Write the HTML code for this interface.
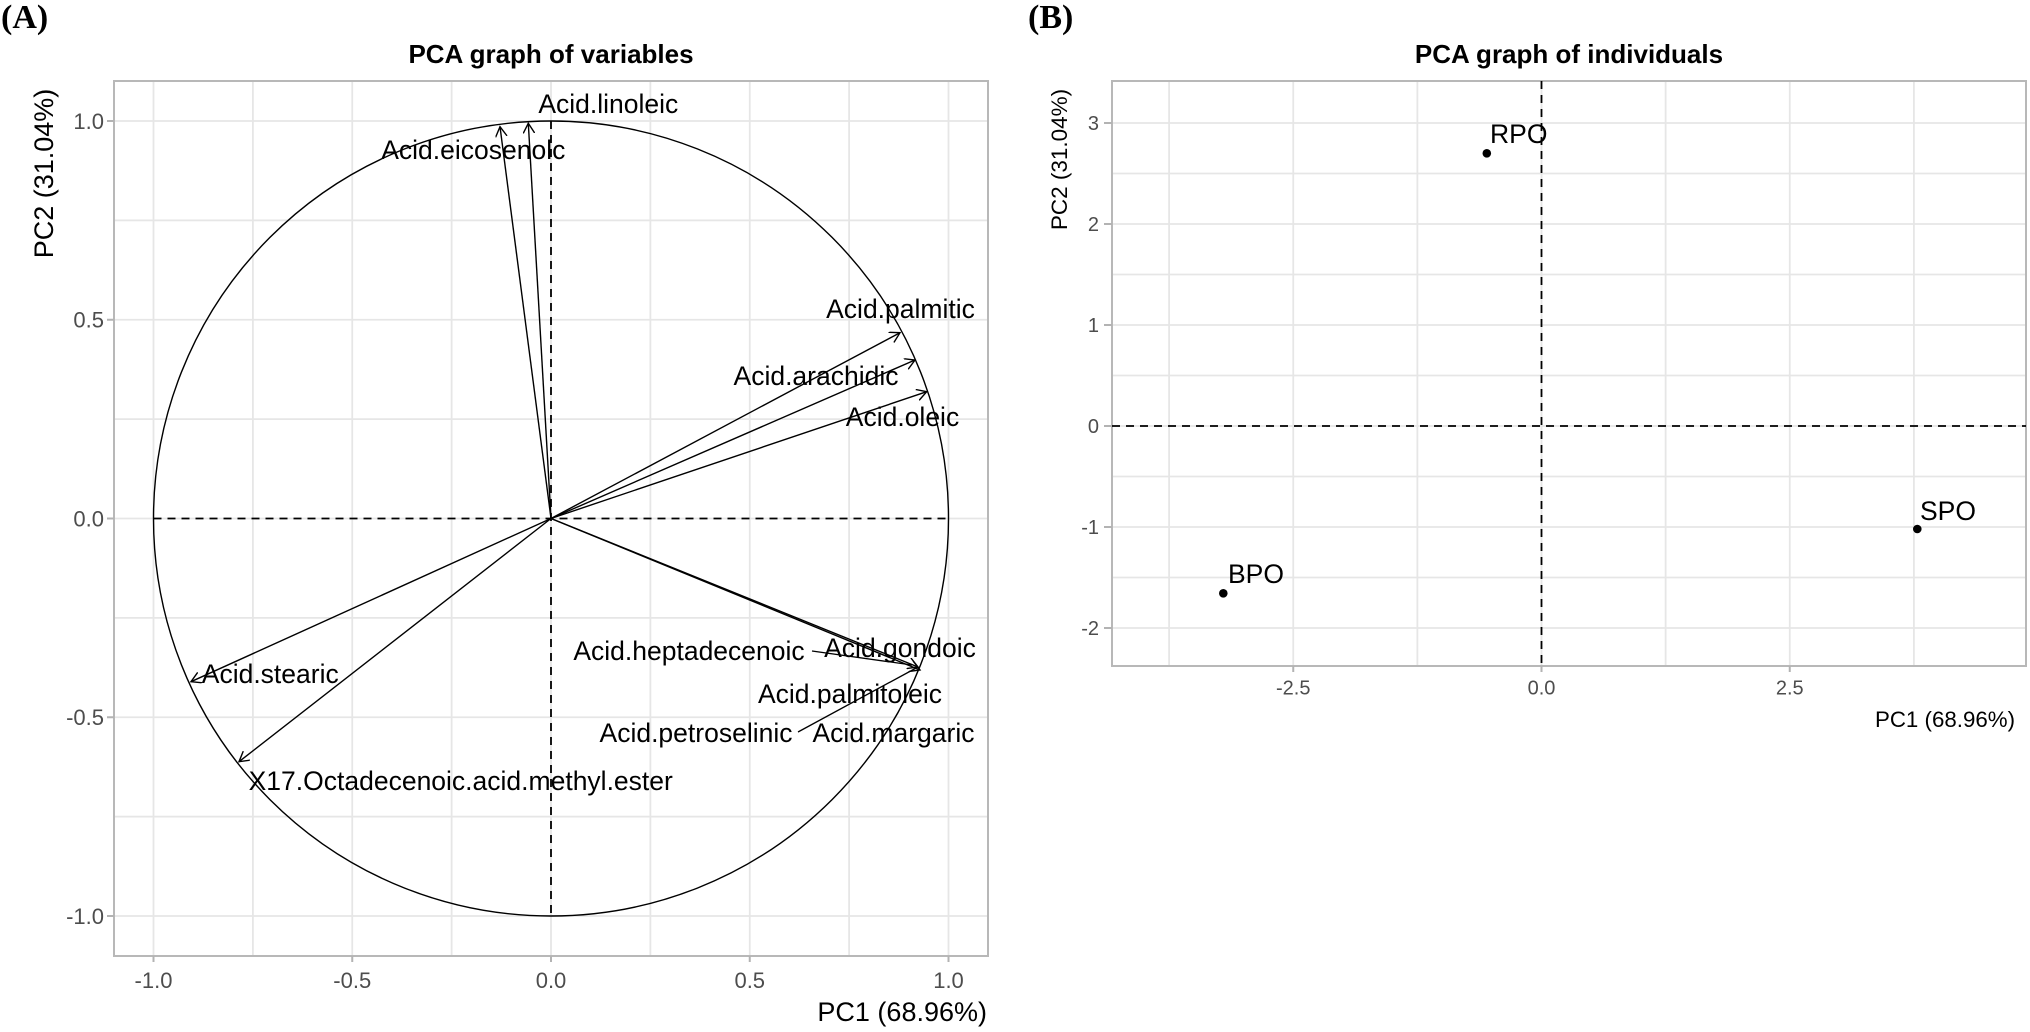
<!DOCTYPE html>
<html><head><meta charset="utf-8">
<style>
html,body{margin:0;padding:0;background:#fff;}
svg{display:block;}
text{font-family:"Liberation Sans",Arial,sans-serif;}
.tl{fill:#4d4d4d;font-size:22px;}
.tr{fill:#4d4d4d;font-size:20px;}
.lab{fill:#000;font-size:26.5px;}
.ttl{font-weight:bold;font-size:26px;fill:#000;}
.pn{font-family:"Liberation Serif","Times New Roman",serif;font-weight:bold;font-size:34px;fill:#000;}
</style></head>
<body>
<svg width="2030" height="1032" viewBox="0 0 2030 1032" xmlns="http://www.w3.org/2000/svg">
<defs>
<marker id="ah" viewBox="0 0 12 12" refX="10" refY="5.77" markerWidth="12" markerHeight="12" markerUnits="userSpaceOnUse" orient="auto">
<path d="M0,0 L10,5.77 L0,11.55" fill="none" stroke="#000" stroke-width="1.4"/>
</marker>
</defs>
<rect width="2030" height="1032" fill="#fff"/>

<!-- Panel labels -->
<text class="pn" x="1" y="28">(A)</text>
<text class="pn" x="1028" y="28">(B)</text>

<!-- ===== LEFT PANEL ===== -->
<text class="ttl" x="551" y="63" text-anchor="middle">PCA graph of variables</text>
<g stroke="#e6e6e6" stroke-width="1.8">
<line x1="153.5" y1="81" x2="153.5" y2="956"/>
<line x1="252.9" y1="81" x2="252.9" y2="956"/>
<line x1="352.25" y1="81" x2="352.25" y2="956"/>
<line x1="451.6" y1="81" x2="451.6" y2="956"/>
<line x1="551" y1="81" x2="551" y2="956"/>
<line x1="650.4" y1="81" x2="650.4" y2="956"/>
<line x1="749.75" y1="81" x2="749.75" y2="956"/>
<line x1="849.1" y1="81" x2="849.1" y2="956"/>
<line x1="948.5" y1="81" x2="948.5" y2="956"/>
<line x1="114" y1="121" x2="988" y2="121"/>
<line x1="114" y1="220.4" x2="988" y2="220.4"/>
<line x1="114" y1="319.75" x2="988" y2="319.75"/>
<line x1="114" y1="419.1" x2="988" y2="419.1"/>
<line x1="114" y1="518.5" x2="988" y2="518.5"/>
<line x1="114" y1="617.9" x2="988" y2="617.9"/>
<line x1="114" y1="717.25" x2="988" y2="717.25"/>
<line x1="114" y1="816.6" x2="988" y2="816.6"/>
<line x1="114" y1="916" x2="988" y2="916"/>
</g>
<rect x="114" y="81" width="874" height="875" fill="none" stroke="#b8b8b8" stroke-width="2"/>
<!-- ticks -->
<g stroke="#b3b3b3" stroke-width="2">
<line x1="107" y1="121" x2="114" y2="121"/>
<line x1="107" y1="319.75" x2="114" y2="319.75"/>
<line x1="107" y1="518.5" x2="114" y2="518.5"/>
<line x1="107" y1="717.25" x2="114" y2="717.25"/>
<line x1="107" y1="916" x2="114" y2="916"/>
<line x1="153.5" y1="956" x2="153.5" y2="962"/>
<line x1="352.25" y1="956" x2="352.25" y2="962"/>
<line x1="551" y1="956" x2="551" y2="962"/>
<line x1="749.75" y1="956" x2="749.75" y2="962"/>
<line x1="948.5" y1="956" x2="948.5" y2="962"/>
</g>
<g class="tl" text-anchor="end">
<text x="104" y="129">1.0</text>
<text x="104" y="327.5">0.5</text>
<text x="104" y="526.5">0.0</text>
<text x="104" y="725">-0.5</text>
<text x="104" y="924">-1.0</text>
</g>
<g class="tl" text-anchor="middle">
<text x="153.5" y="988">-1.0</text>
<text x="352.25" y="988">-0.5</text>
<text x="551" y="988">0.0</text>
<text x="749.75" y="988">0.5</text>
<text x="948.5" y="988">1.0</text>
</g>
<text x="987" y="1021" text-anchor="end" font-size="27" fill="#000">PC1 (68.96%)</text>
<text transform="translate(53,173.5) rotate(-90)" text-anchor="middle" font-size="27" fill="#000">PC2 (31.04%)</text>

<!-- dashed axes -->
<g stroke="#000" stroke-width="1.8" stroke-dasharray="8,6" fill="none">
<line x1="153.5" y1="518.5" x2="948.5" y2="518.5"/>
<line x1="551" y1="121" x2="551" y2="916"/>
</g>
<!-- circle -->
<circle cx="551" cy="518.5" r="397.5" fill="none" stroke="#000" stroke-width="1.4"/>

<!-- arrows -->
<g stroke="#000" stroke-width="1.4" fill="none" marker-end="url(#ah)">
<line x1="551" y1="518.5" x2="500" y2="126.7"/>
<line x1="551" y1="518.5" x2="528.3" y2="123.3"/>
<line x1="551" y1="518.5" x2="900" y2="332.7"/>
<line x1="551" y1="518.5" x2="915" y2="360"/>
<line x1="551" y1="518.5" x2="926.7" y2="391.7"/>
<line x1="551" y1="518.5" x2="191" y2="681.7"/>
<line x1="551" y1="518.5" x2="239" y2="761.7"/>
<line x1="551" y1="518.5" x2="918" y2="667"/>
<line x1="551" y1="518.5" x2="920" y2="670"/>
</g>
<!-- leader segments -->
<g stroke="#000" stroke-width="1.3" fill="none">
<line x1="812" y1="651" x2="912" y2="665"/>
<line x1="798" y1="732" x2="918" y2="667"/>
</g>

<!-- variable labels -->
<g class="lab" text-anchor="middle">
<text x="608.3" y="113">Acid.linoleic</text>
<text x="473.3" y="159">Acid.eicosenolc</text>
<text x="900.5" y="318">Acid.palmitic</text>
<text x="816" y="385">Acid.arachidic</text>
<text x="902.5" y="426">Acid.oleic</text>
<text x="900" y="657">Acid.gondoic</text>
<text x="689" y="660">Acid.heptadecenoic</text>
<text x="850" y="703">Acid.palmitoleic</text>
<text x="696" y="742">Acid.petroselinic</text>
<text x="893.5" y="742">Acid.margaric</text>
<text x="270.25" y="683">Acid.stearic</text>
<text x="460.75" y="790">X17.Octadecenoic.acid.methyl.ester</text>
</g>

<!-- ===== RIGHT PANEL ===== -->
<text class="ttl" x="1569" y="63" text-anchor="middle">PCA graph of individuals</text>
<g stroke="#e6e6e6" stroke-width="1.8">
<line x1="1169.1" y1="81" x2="1169.1" y2="666"/>
<line x1="1293.25" y1="81" x2="1293.25" y2="666"/>
<line x1="1417.4" y1="81" x2="1417.4" y2="666"/>
<line x1="1541.5" y1="81" x2="1541.5" y2="666"/>
<line x1="1665.6" y1="81" x2="1665.6" y2="666"/>
<line x1="1789.75" y1="81" x2="1789.75" y2="666"/>
<line x1="1913.9" y1="81" x2="1913.9" y2="666"/>
<line x1="1112" y1="123" x2="2026" y2="123"/>
<line x1="1112" y1="173.5" x2="2026" y2="173.5"/>
<line x1="1112" y1="224" x2="2026" y2="224"/>
<line x1="1112" y1="274.5" x2="2026" y2="274.5"/>
<line x1="1112" y1="325" x2="2026" y2="325"/>
<line x1="1112" y1="375.5" x2="2026" y2="375.5"/>
<line x1="1112" y1="426" x2="2026" y2="426"/>
<line x1="1112" y1="476.5" x2="2026" y2="476.5"/>
<line x1="1112" y1="527" x2="2026" y2="527"/>
<line x1="1112" y1="577.5" x2="2026" y2="577.5"/>
<line x1="1112" y1="628" x2="2026" y2="628"/>
</g>
<rect x="1112" y="81" width="914" height="585" fill="none" stroke="#b8b8b8" stroke-width="2"/>
<g stroke="#b3b3b3" stroke-width="2">
<line x1="1104" y1="123" x2="1112" y2="123"/>
<line x1="1104" y1="224" x2="1112" y2="224"/>
<line x1="1104" y1="325" x2="1112" y2="325"/>
<line x1="1104" y1="426" x2="1112" y2="426"/>
<line x1="1104" y1="527" x2="1112" y2="527"/>
<line x1="1104" y1="628" x2="1112" y2="628"/>
<line x1="1293.25" y1="666" x2="1293.25" y2="672"/>
<line x1="1541.5" y1="666" x2="1541.5" y2="672"/>
<line x1="1789.75" y1="666" x2="1789.75" y2="672"/>
</g>
<g class="tr" text-anchor="end">
<text x="1099" y="130">3</text>
<text x="1099" y="231">2</text>
<text x="1099" y="332">1</text>
<text x="1099" y="433">0</text>
<text x="1099" y="534">-1</text>
<text x="1099" y="635">-2</text>
</g>
<g class="tr" text-anchor="middle">
<text x="1293.25" y="694.5">-2.5</text>
<text x="1541.5" y="694.5">0.0</text>
<text x="1789.75" y="694.5">2.5</text>
</g>
<text x="2015" y="727" text-anchor="end" font-size="22.3" fill="#000">PC1 (68.96%)</text>
<text transform="translate(1067,159.5) rotate(-90)" text-anchor="middle" font-size="22.5" fill="#000">PC2 (31.04%)</text>

<g stroke="#000" stroke-width="1.8" stroke-dasharray="8,6" fill="none">
<line x1="1112" y1="426" x2="2026" y2="426"/>
<line x1="1541.5" y1="81" x2="1541.5" y2="666"/>
</g>

<g fill="#000">
<circle cx="1486.8" cy="153.3" r="4.3"/>
<circle cx="1223.3" cy="593.3" r="4.3"/>
<circle cx="1917.3" cy="529" r="4.3"/>
</g>
<g class="lab" font-size="26">
<text x="1490" y="143">RPO</text>
<text x="1228" y="583">BPO</text>
<text x="1920" y="520">SPO</text>
</g>
</svg>
</body></html>
